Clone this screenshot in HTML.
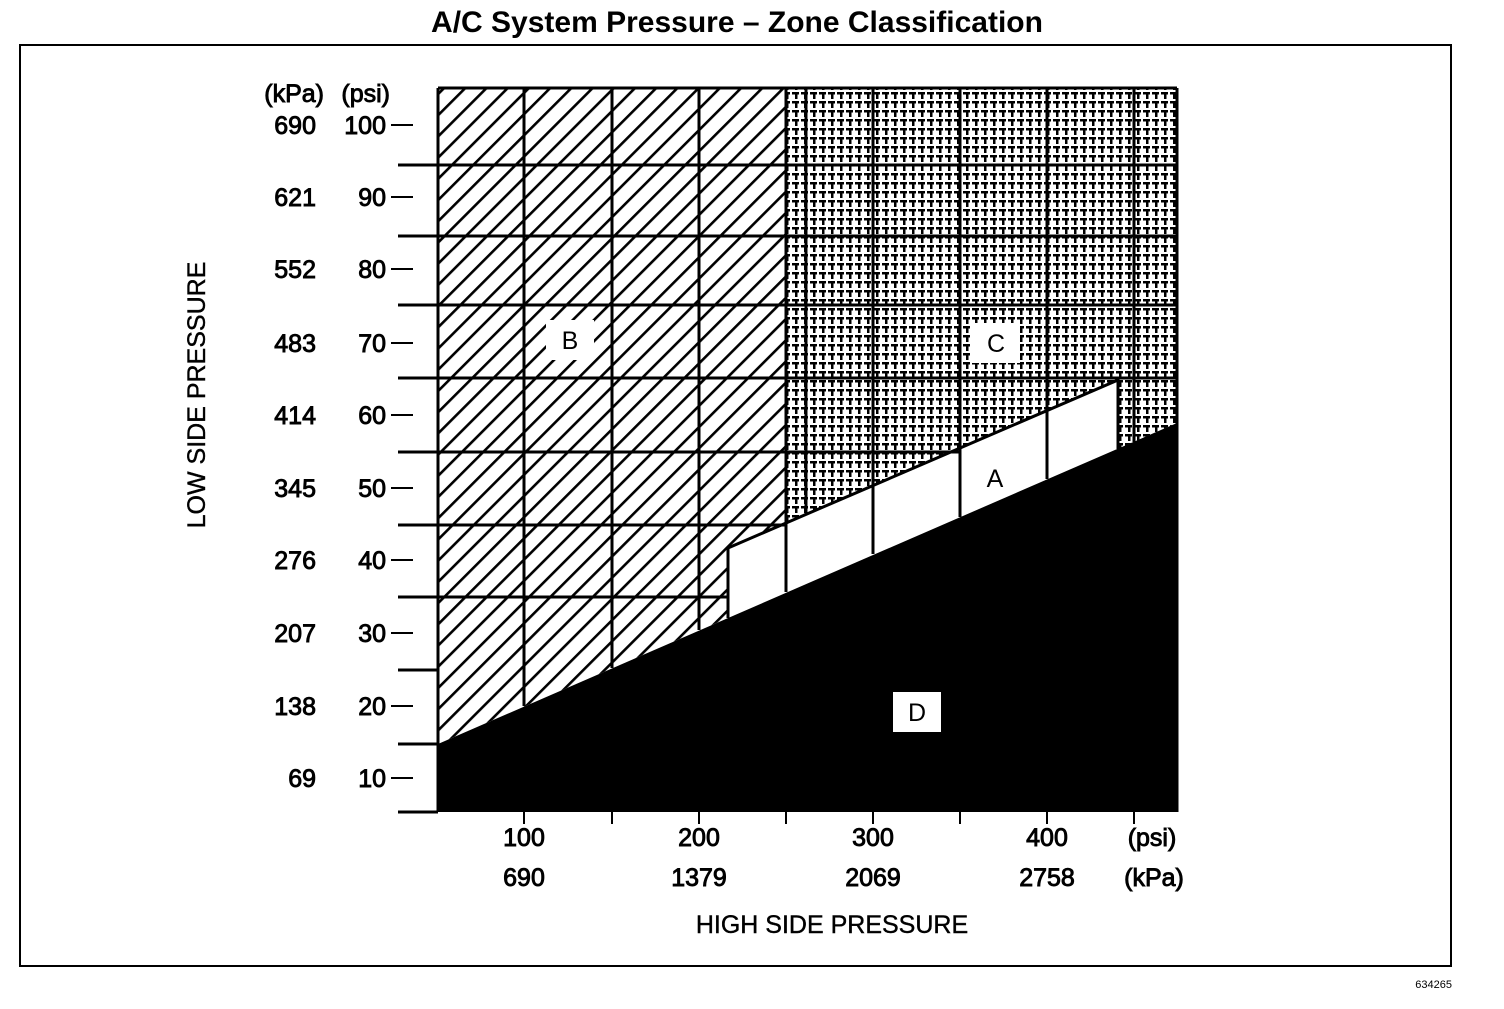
<!DOCTYPE html>
<html><head><style>
html,body{margin:0;padding:0;background:#fff;}
body{width:1504px;height:1004px;overflow:hidden;}
text{font-family:"Liberation Sans",Arial,sans-serif;fill:#000;}
</style></head><body>
<svg width="1504" height="1004" viewBox="0 0 1504 1004" xmlns="http://www.w3.org/2000/svg">
<defs>
<pattern id="hb" patternUnits="userSpaceOnUse" width="15" height="15" patternTransform="rotate(-45)">
<rect width="15" height="15" fill="#fff"/><rect x="0" y="0" width="15" height="2.6" fill="#000"/>
</pattern>
<pattern id="hc" patternUnits="userSpaceOnUse" width="9" height="9">
<rect width="9" height="9" fill="#fff"/>
<rect x="0" y="2" width="7" height="2.5" fill="#000"/>
<rect x="3" y="2" width="2.5" height="7" fill="#000"/>
</pattern>
</defs>
<text x="737" y="32" text-anchor="middle" font-size="30" font-weight="bold">A/C System Pressure – Zone Classification</text>
<rect x="20" y="45" width="1431" height="921" fill="none" stroke="#000" stroke-width="2"/>

<polygon points="438,88 786,88 786,523 728,548 728,618 438,744" fill="url(#hb)"/>
<polygon points="786,88 1177,88 1177,423 1118,449 1118,380 786,523" fill="url(#hc)"/>
<polygon points="728,548 1118,380 1118,449 728,618" fill="#fff"/>
<polygon points="438,744 1177,423 1177,812 438,812" fill="#000"/>
<polyline points="728,618 728,548 1118,380 1118,449" fill="none" stroke="#000" stroke-width="3"/>

<g stroke="#000" stroke-width="3">
<line x1="438" y1="88" x2="1177" y2="88"/>
<line x1="398" y1="165" x2="1177" y2="165"/>
<line x1="398" y1="236" x2="1177" y2="236"/>
<line x1="398" y1="305" x2="1177" y2="305"/>
<line x1="398" y1="378" x2="1177" y2="378"/>
<line x1="398" y1="452" x2="960" y2="452"/>
<line x1="398" y1="525" x2="786" y2="525"/>
<line x1="398" y1="597" x2="728" y2="597"/>
<line x1="398" y1="670" x2="438" y2="670"/>
<line x1="398" y1="744" x2="438" y2="744"/>
<line x1="398" y1="812" x2="438" y2="812"/>
<line x1="438" y1="88" x2="438" y2="812"/>
<line x1="1177" y1="88" x2="1177" y2="812"/>
<line x1="524" y1="88" x2="524" y2="706"/>
<line x1="612" y1="88" x2="612" y2="668"/>
<line x1="699" y1="88" x2="699" y2="630"/>
<line x1="786" y1="88" x2="786" y2="592"/>
<line x1="806" y1="88" x2="806" y2="515"/>
<line x1="873" y1="88" x2="873" y2="554"/>
<line x1="960" y1="88" x2="960" y2="517"/>
<line x1="1047" y1="88" x2="1047" y2="479"/>
<line x1="1134" y1="88" x2="1134" y2="442"/>
<line x1="786" y1="523" x2="786" y2="592"/>
<line x1="728" y1="548" x2="728" y2="618"/>
</g>
<g stroke="#000" stroke-width="2">
<line x1="391" y1="125" x2="413" y2="125"/>
<line x1="391" y1="197" x2="413" y2="197"/>
<line x1="391" y1="269" x2="413" y2="269"/>
<line x1="391" y1="343" x2="413" y2="343"/>
<line x1="391" y1="415" x2="413" y2="415"/>
<line x1="391" y1="488" x2="413" y2="488"/>
<line x1="391" y1="560" x2="413" y2="560"/>
<line x1="391" y1="633" x2="413" y2="633"/>
<line x1="391" y1="706" x2="413" y2="706"/>
<line x1="391" y1="778" x2="413" y2="778"/>
<line x1="524" y1="812" x2="524" y2="824"/>
<line x1="612" y1="812" x2="612" y2="824"/>
<line x1="699" y1="812" x2="699" y2="824"/>
<line x1="786" y1="812" x2="786" y2="824"/>
<line x1="873" y1="812" x2="873" y2="824"/>
<line x1="960" y1="812" x2="960" y2="824"/>
<line x1="1047" y1="812" x2="1047" y2="824"/>
<line x1="1134" y1="812" x2="1134" y2="824"/>
</g>

<g font-size="25" stroke="#000" stroke-width="0.9">
<text x="324" y="102" text-anchor="end">(kPa)</text>
<text x="390" y="102" text-anchor="end">(psi)</text>
<g text-anchor="end">
<text x="316" y="134">690</text><text x="386" y="134">100</text>
<text x="316" y="206">621</text><text x="386" y="206">90</text>
<text x="316" y="278">552</text><text x="386" y="278">80</text>
<text x="316" y="352">483</text><text x="386" y="352">70</text>
<text x="316" y="424">414</text><text x="386" y="424">60</text>
<text x="316" y="497">345</text><text x="386" y="497">50</text>
<text x="316" y="569">276</text><text x="386" y="569">40</text>
<text x="316" y="642">207</text><text x="386" y="642">30</text>
<text x="316" y="715">138</text><text x="386" y="715">20</text>
<text x="316" y="787">69</text><text x="386" y="787">10</text>
</g>
<g text-anchor="middle">
<text x="524" y="846">100</text><text x="699" y="846">200</text><text x="873" y="846">300</text><text x="1047" y="846">400</text><text x="1152" y="846">(psi)</text>
<text x="524" y="886">690</text><text x="699" y="886">1379</text><text x="873" y="886">2069</text><text x="1047" y="886">2758</text><text x="1154" y="886">(kPa)</text>
</g>
<text x="832" y="933" text-anchor="middle" stroke-width="0.4">HIGH SIDE PRESSURE</text>
<text transform="translate(205,395) rotate(-90)" text-anchor="middle" stroke-width="0.4">LOW SIDE PRESSURE</text>
</g>

<rect x="546" y="320" width="48" height="40" fill="#fff"/>
<text x="570" y="349" text-anchor="middle" font-size="25">B</text>
<rect x="972" y="323" width="48" height="40" fill="#fff"/>
<text x="996" y="352" text-anchor="middle" font-size="25">C</text>
<text x="995" y="487" text-anchor="middle" font-size="25">A</text>
<rect x="893" y="692" width="48" height="40" fill="#fff"/>
<text x="917" y="721" text-anchor="middle" font-size="25">D</text>
<text x="1452" y="988" text-anchor="end" font-size="11">634265</text>
</svg>
</body></html>
